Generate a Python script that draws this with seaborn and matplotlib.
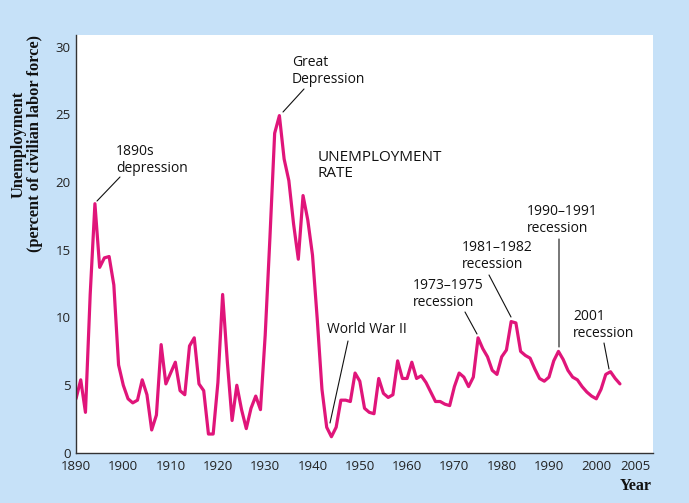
import matplotlib
matplotlib.use("Agg")
import matplotlib.pyplot as plt
import seaborn as sns
import numpy as np
import pandas as pd

years = list(range(1890, 2006))
unemployment = [
    4.0, 5.4, 3.0, 11.7, 18.4, 13.7, 14.4, 14.5, 12.4, 6.5,   # 1890-1899
    5.0, 4.0, 3.7, 3.9, 5.4, 4.3, 1.7, 2.8, 8.0, 5.1,         # 1900-1909
    5.9, 6.7, 4.6, 4.3, 7.9, 8.5, 5.1, 4.6, 1.4, 1.4,         # 1910-1919
    5.2, 11.7, 6.7, 2.4, 5.0, 3.2, 1.8, 3.3, 4.2, 3.2,        # 1920-1929
    8.7, 15.9, 23.6, 24.9, 21.7, 20.1, 16.9, 14.3, 19.0, 17.2,  # 1930-1939
    14.6, 9.9, 4.7, 1.9, 1.2, 1.9, 3.9, 3.9, 3.8, 5.9,        # 1940-1949
    5.3, 3.3, 3.0, 2.9, 5.5, 4.4, 4.1, 4.3, 6.8, 5.5,         # 1950-1959
    5.5, 6.7, 5.5, 5.7, 5.2, 4.5, 3.8, 3.8, 3.6, 3.5,         # 1960-1969
    4.9, 5.9, 5.6, 4.9, 5.6, 8.5, 7.7, 7.1, 6.1, 5.8,         # 1970-1979
    7.1, 7.6, 9.7, 9.6, 7.5, 7.2, 7.0, 6.2, 5.5, 5.3,         # 1980-1989
    5.6, 6.8, 7.5, 6.9, 6.1, 5.6, 5.4, 4.9, 4.5, 4.2,         # 1990-1999
    4.0, 4.7, 5.8, 6.0, 5.5, 5.1,                             # 2000-2005
]

x_ticks = [1890, 1900, 1910, 1920, 1930, 1940, 1950, 1960, 1970, 1980, 1990, 2000, 2005]
y_ticks = [0, 5, 10, 15, 20, 25, 30]

annotations = ["1890s\ndepression", "Great\nDepression", "World War II",
               "1973\u20131975\nrecession", "1981\u20131982\nrecession",
               "1990\u20131991\nrecession", "2001\nrecession"]

df = pd.DataFrame({"Year": years, "Rate": unemployment})

sns.set_theme(style="white")
plt.rcParams["font.family"] = ["Open Sans", "DejaVu Sans"]

W, H = 689, 503
fig = plt.figure(figsize=(W / 100, H / 100), dpi=100)
bg = "#C6E1F8"
fig.patch.set_facecolor(bg)

X0, X1 = 76, 653
Y0, Y1 = 453, 35
ax = fig.add_axes([X0 / W, 1 - Y0 / H, (X1 - X0) / W, (Y0 - Y1) / H])
ax.set_facecolor("white")

line_color = "#E0157A"
sns.lineplot(data=df, x="Year", y="Rate", ax=ax, color=line_color, linewidth=2.3)

xmin = 1890
xpx = 4.73  # pixels per year
xmax = xmin + (X1 - X0) / xpx
ypx = (Y0 - 46.5) / 30.0
ymax = (Y0 - Y1) / ypx
ax.set_xlim(xmin, xmax)
ax.set_ylim(0, ymax)

ax.set_xticks(x_ticks)
ax.set_xticklabels([str(t) for t in x_ticks])
ax.set_yticks(y_ticks)
ax.set_yticklabels([str(t) for t in y_ticks])
ax.tick_params(axis="both", direction="in", length=6, width=0.9, color="#333333",
               labelsize=9.5, labelcolor="#222222", pad=4)
ax.tick_params(axis="x", pad=5)
# last label (2005) sits to the right of its tick, as in the reference
ax.get_xticklabels()[-1].set_horizontalalignment("left")
ax.set_xlabel("")
ax.set_ylabel("")

for s in ["top", "right"]:
    ax.spines[s].set_visible(False)
for s in ["left", "bottom"]:
    ax.spines[s].set_color("#333333")
    ax.spines[s].set_linewidth(1.0)


def px2data(px, py):
    return (xmin + (px - X0) / xpx, (Y0 - py) / ypx)


txt_kw = dict(fontsize=10, color="#111111", ha="left", va="top", linespacing=1.15)

# (text, text top-left pixel, line start pixel, line end pixel)
ann_specs = [
    (annotations[0], (116, 144), (120, 177), (97, 201)),
    (annotations[1], (292, 55), (304, 89), (283, 112)),
    (annotations[2], (327, 322), (348, 341), (330, 423)),
    (annotations[3], (413, 278), (465, 312), (477, 334)),
    (annotations[4], (462, 240), (489, 275), (511, 317)),
    (annotations[5], (527, 204), (559, 239), (559, 347)),
    (annotations[6], (573, 309), (604, 343), (609, 369)),
]

for text, tpos, lstart, lend in ann_specs:
    tx, ty = px2data(*tpos)
    ax.text(tx, ty, text, **txt_kw)
    a = px2data(*lstart)
    b = px2data(*lend)
    ax.annotate("", xy=b, xytext=a,
                arrowprops=dict(arrowstyle="-", color="#111111", lw=0.8,
                                shrinkA=0, shrinkB=0))

ux, uy = px2data(318, 150)
ax.text(ux, uy, "UNEMPLOYMENT\nRATE", fontsize=11, color="#111111",
        ha="left", va="top", linespacing=1.1)

fig.text(27 / W, 1 - 144 / H, "Unemployment\n(percent of civilian labor force)",
         rotation=90, ha="center", va="center", multialignment="center",
         fontsize=11.8, fontweight="bold", family=["Liberation Serif", "DejaVu Serif"],
         color="#111111", linespacing=1.05)

fig.text(652 / W, 1 - 486 / H, "Year", ha="right", va="center",
         fontsize=11.5, fontweight="bold", family=["Liberation Serif", "DejaVu Serif"],
         color="#111111")

fig.savefig("out.png", dpi=100, facecolor=bg)
